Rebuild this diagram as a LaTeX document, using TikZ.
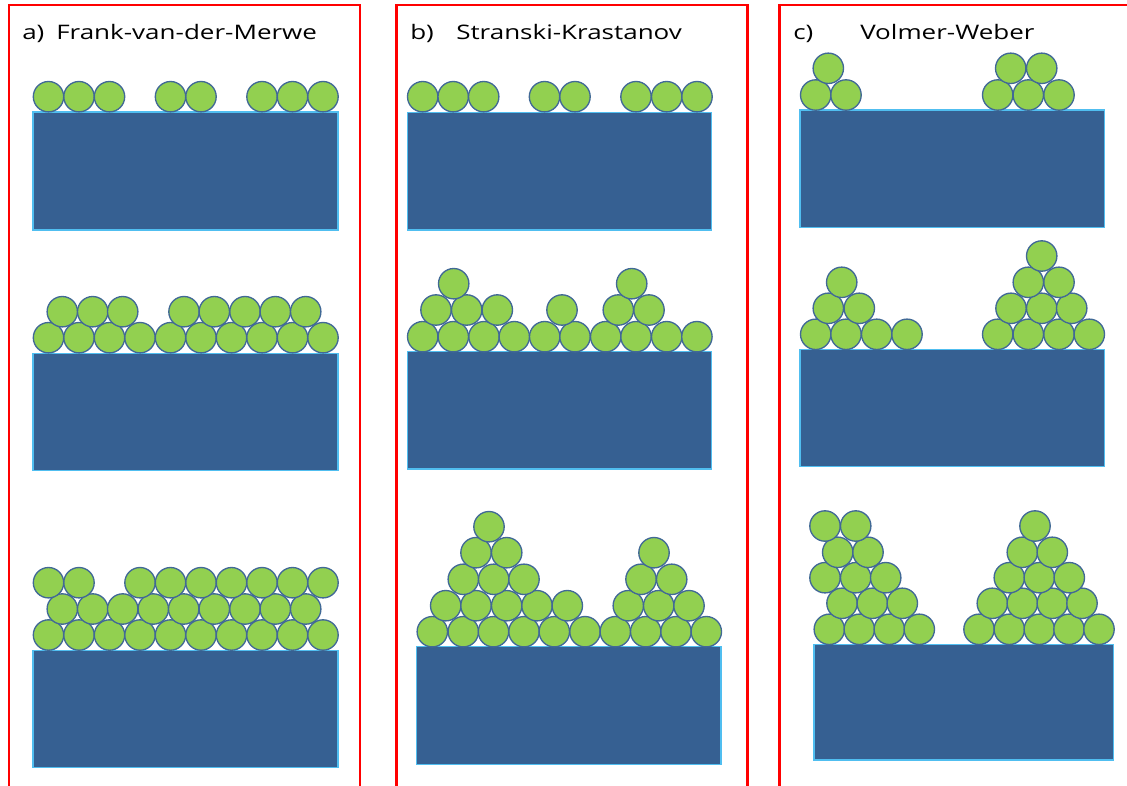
\documentclass[tikz,border=0pt]{standalone}
\usepackage{fontspec}
\setmainfont{Open Sans}
\definecolor{subst}{RGB}{54,96,146}
\definecolor{substedge}{RGB}{80,190,240}
\definecolor{atomfill}{RGB}{146,208,80}
\definecolor{atomedge}{RGB}{65,105,150}
\tikzset{
  atom/.style={fill=atomfill,draw=atomedge,line width=1pt},
  substrate/.style={fill=subst,draw=substedge,line width=0.8pt},
  frame/.style={draw=red,line width=2.2pt},
  title/.style={anchor=base west,inner sep=0pt,font=\fontsize{15}{18}\selectfont}
}
\newcommand\atomrow[2]{\foreach \xx in {#2} {\draw[atom] (\xx,#1) circle[radius=11.4pt];}}
\newcommand\wide[1]{\scalebox{1.3}[1]{#1}}
\begin{document}
\begin{tikzpicture}[x=0.75pt,y=-0.75pt]
\useasboundingbox (0,0) rectangle (1127,785);
\clip (0,0) rectangle (1127,785);
\fill[white] (0,0) rectangle (1127,785);
% frames
\draw[frame] (9,5) rectangle (360,800);
\draw[frame] (396.7,5) rectangle (747.7,800);
\draw[frame] (779.3,5) rectangle (1140,800);
% titles
\node[title] (ta) at (22,39.3) {\wide{a)}};
\node[title] (na) at (56,39.3) {\wide{Frank-van-der-Merwe}};
\node[title] (tb) at (410,39.3) {\wide{b)}};
\node[title] (nb) at (456,39.3) {\wide{Stranski-Krastanov}};
\node[title] (tc) at (793,39.3) {\wide{c)}};
\node[title] (nc) at (860,39.3) {\wide{Volmer-Weber}};
% ---------- panel a ----------
\draw[substrate] (33,112) rectangle (338,230);
\atomrow{96.7}{48.5,79,109.5,170.5,201,262,292.5,323}
\draw[substrate] (33,353.3) rectangle (338,470.7);
\atomrow{337.7}{48.5,79,109.5,140,170.5,201,231.5,262,292.5,323}
\atomrow{311.7}{62.3,92.7,122.7,184,214.3,245,275.3,305.7}
\draw[substrate] (33,650.7) rectangle (338,767.7);
\atomrow{635}{48.5,79,109.5,140,170.5,201,231.5,262,292.5,323}
\atomrow{609}{62.3,92.7,122.7,153.3,183.7,214.3,245,275.3,305.7}
\atomrow{582.7}{48.5,79,140,170.5,201,231.5,262,292.5,323}
% ---------- panel b ----------
\draw[substrate] (407.3,112.3) rectangle (711.7,230);
\atomrow{96.7}{422.7,453.2,483.7,544.5,575,636,666.7,697}
\draw[substrate] (407.3,351.7) rectangle (711.7,469);
\atomrow{336.7}{422.7,453.3,484,514.3,544.7,575,605.7,636,666.7,696.9}
\atomrow{310}{436,466.7,497.3,562,618.3,649}
\atomrow{283.7}{453.7,631.7}
\draw[substrate] (416.7,646.7) rectangle (721,764.3);
\atomrow{631.7}{432.3,463.3,493.5,524,554.3,585,615.3,645.7,676,706.3}
\atomrow{605.7}{445.7,476,506.7,537,567.3,628.3,658.7,689}
\atomrow{579.3}{463.3,493.7,524,641,671.7}
\atomrow{552.7}{476,506.7,654}
\atomrow{526.7}{489}
% ---------- panel c ----------
\draw[substrate] (800,110) rectangle (1104.3,227.7);
\atomrow{95}{815.7,846,997.7,1028.3,1059}
\atomrow{68.3}{828.3,1010.7,1041.7}
\draw[substrate] (800,349.3) rectangle (1104.3,466.7);
\atomrow{334.3}{815.7,846,876.7,907,997.7,1028.3,1059,1089.3}
\atomrow{308.3}{828.3,859.3,1011,1041.7,1071.7}
\atomrow{282.3}{841.7,1028.3,1059}
\atomrow{256}{1041.7}
\draw[substrate] (814,644.3) rectangle (1113.3,760);
\atomrow{629.3}{829.3,859.3,889.3,919.3,979,1009.3,1039.3,1069,1099}
\atomrow{603.3}{842,872.3,902.3,992.3,1022.3,1052.3,1082}
\atomrow{577.7}{825,855.7,885.7,1009.3,1039.3,1069.3}
\atomrow{552.3}{837.7,868,1022.3,1052.3}
\atomrow{526}{825,855.7,1035}
\end{tikzpicture}
\end{document}
